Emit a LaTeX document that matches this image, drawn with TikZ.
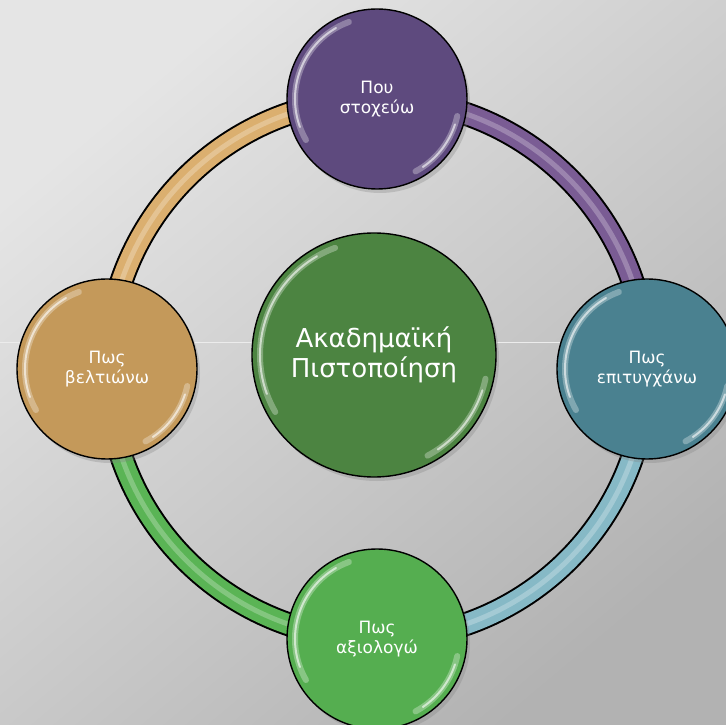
\documentclass[tikz,border=0pt]{standalone}
\usepackage{fontspec}
\setmainfont{DejaVu Sans}
\usetikzlibrary{positioning, calc, shadows}
\pgfdeclarelayer{bg}
\pgfdeclarelayer{bands}
\pgfsetlayers{bg,bands,main}
\definecolor{stoxos}{HTML}{5E4A7E}
\definecolor{epitygxano}{HTML}{4A8190}
\definecolor{axiologo}{HTML}{55AE50}
\definecolor{veltiono}{HTML}{C4995A}
\definecolor{pistopoiisi}{HTML}{4C8441}
\definecolor{stoxosband}{HTML}{7A5C94}
\definecolor{epitygxanoband}{HTML}{86B9C6}
\definecolor{axiologoband}{HTML}{5AB455}
\definecolor{veltionoband}{HTML}{DBAF6F}
\tikzstyle{Gloss} = [draw=white, line cap=round]
\tikzstyle{Bubble} = [
circle, draw=black, line width=1.4pt, text=white, align=center,
minimum size=180pt, inner sep=0pt,
font=\fontsize{17}{20}\selectfont,
drop shadow={opacity=0.3, shadow xshift=3pt, shadow yshift=-4pt},
path picture={
\draw[Gloss, draw opacity=0.3, line width=6pt]
  let \p1 = ($(path picture bounding box.east)-(path picture bounding box.center)$) in
  ($(path picture bounding box.center)+(110:\x1-8pt)$)
    arc[start angle=110, end angle=210, radius=\x1-8pt]
  ($(path picture bounding box.center)+(-12:\x1-8pt)$)
    arc[start angle=-12, end angle=-62, radius=\x1-8pt];
\draw[Gloss, draw opacity=0.6, line width=2pt]
  let \p1 = ($(path picture bounding box.east)-(path picture bounding box.center)$) in
  ($(path picture bounding box.center)+(120:\x1-8pt)$)
    arc[start angle=120, end angle=200, radius=\x1-8pt]
  ($(path picture bounding box.center)+(-18:\x1-8pt)$)
    arc[start angle=-18, end angle=-56, radius=\x1-8pt];
}]
\tikzstyle{Band} = [
line width=20pt,
preaction={draw=black, line width=24pt},
postaction={draw=white, draw opacity=0.25, line width=5pt}]

\begin{document}
\begin{tikzpicture}[x=1pt, y=1pt]
    \useasboundingbox (0,0) rectangle (726,724);
    \coordinate (ring) at (377,355);

    \node[Bubble, fill=stoxos] (top) at ($(ring)+(90:270)$) {Που\\στοχεύω};
    \node[Bubble, fill=epitygxano] (right) at ($(ring)+(0:270)$) {Πως\\επιτυγχάνω};
    \node[Bubble, fill=axiologo] (bottom) at ($(ring)+(270:270)$) {Πως\\αξιολογώ};
    \node[Bubble, fill=veltiono] (left) at ($(ring)+(180:270)$) {Πως\\βελτιώνω};
    \node[Bubble, fill=pistopoiisi, minimum size=244pt,
        font=\fontsize{26}{30}\selectfont] (mid) at (374,369) {Ακαδημαϊκή\\Πιστοποίηση};

    % background
    \begin{pgfonlayer}{bg}
        \shade[top color=gray!20, bottom color=gray!60, shading angle=40]
            (0,0) rectangle (726,724);
        \draw[white!85!gray, line width=0.8pt] (0,382) -- (726,382);
    \end{pgfonlayer}

    % ring between the bubbles
    \begin{pgfonlayer}{bands}
        \draw[Band, draw=veltionoband] (left.center) to[bend left=45] (top.center);
        \draw[Band, draw=stoxosband] (top.center) to[bend left=45] (right.center);
        \draw[Band, draw=epitygxanoband] (right.center) to[bend left=45] (bottom.center);
        \draw[Band, draw=axiologoband] (bottom.center) to[bend left=45] (left.center);
    \end{pgfonlayer}
\end{tikzpicture}
\end{document}
